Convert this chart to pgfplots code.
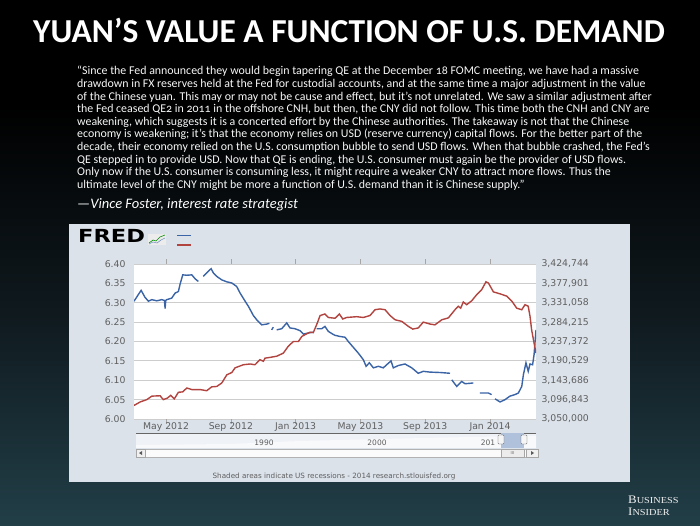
\documentclass[border=0pt]{standalone}
\usepackage{pgfplots}
\usepackage{pgfplotstable}
\pgfplotsset{compat=1.18}
\usepackage{fontspec}
\setmainfont{Carlito}
\newfontfamily\verd{DejaVu Sans}
\newfontfamily\quotefont[Numbers=OldStyle]{Carlito}
\newfontfamily\bifont{Liberation Serif}
\definecolor{fblue}{RGB}{58,100,166}
\definecolor{fred}{RGB}{178,68,64}
\definecolor{panel}{RGB}{219,226,234}
\definecolor{tickgray}{RGB}{95,95,95}
\definecolor{gridgray}{RGB}{205,205,205}
\pgfdeclareverticalshading{bg}{100bp}{rgb(0bp)=(0.19,0.35,0.40); rgb(20bp)=(0.15,0.28,0.32); rgb(45bp)=(0.06,0.10,0.12); rgb(65bp)=(0,0,0); rgb(100bp)=(0,0,0)}

\pgfplotstableread{
m v
2.02 6.304
2.46 6.332
2.70 6.314
2.91 6.304
3.12 6.308
3.43 6.305
3.73 6.308
3.90 6.306
3.94 6.285
3.98 6.306
4.04 6.308
4.35 6.312
4.56 6.325
4.76 6.329
4.86 6.347
5.03 6.372
5.28 6.371
5.59 6.372
5.79 6.362
5.99 6.355
6.15 nan
6.30 6.368
6.51 6.377
6.78 6.388
6.92 6.377
7.13 6.368
7.44 6.359
7.75 6.354
8.06 6.351
8.36 6.342
8.57 6.325
8.88 6.304
9.08 6.291
9.39 6.267
9.60 6.256
9.91 6.243
10.22 6.245
10.38 6.247
10.45 nan
10.52 6.230
10.62 6.237
10.72 nan
10.83 6.230
11.14 6.233
11.45 6.248
11.65 6.235
11.96 6.233
12.27 6.228
12.48 6.219
12.78 6.222
13.09 6.224
13.20 nan
13.30 6.233
13.61 6.233
13.81 6.239
14.02 6.226
14.33 6.218
14.43 6.216
14.74 6.213
15.05 6.211
15.25 6.200
15.56 6.185
15.87 6.170
16.18 6.153
16.35 6.136
16.55 6.145
16.80 6.132
17.11 6.136
17.41 6.132
17.62 6.140
17.89 6.150
18.03 6.132
18.34 6.138
18.75 6.142
19.17 6.132
19.57 6.118
19.88 6.123
20.30 6.121
20.91 6.120
21.53 6.118
21.58 nan
21.64 6.101
21.95 6.084
22.25 6.097
22.46 6.091
22.97 6.093
23.15 nan
23.38 6.067
23.90 6.067
24.10 6.063
24.20 nan
24.31 6.052
24.62 6.044
24.93 6.050
25.23 6.059
25.54 6.063
25.75 6.067
25.96 6.084
26.06 6.114
26.22 6.145
26.36 6.123
26.47 6.142
26.63 6.140
26.72 6.166
26.84 6.230
}\cny

\pgfplotstableread{
m r
2.02 3082790
2.40 3091222
2.81 3096843
3.12 3105275
3.63 3106212
3.83 3096843
4.08 3100590
4.29 3107148
4.51 3098717
4.76 3114643
5.03 3115580
5.28 3124949
5.59 3121201
6.10 3121201
6.51 3118391
6.82 3127759
7.13 3128696
7.44 3137128
7.75 3156802
8.06 3162423
8.26 3173666
8.77 3181160
9.19 3183034
9.49 3181160
9.80 3193340
10.01 3189592
10.11 3197087
10.42 3198961
10.83 3201771
11.24 3209266
11.55 3226130
11.86 3237372
12.17 3237372
12.38 3249551
12.64 3255172
12.89 3259857
13.09 3258920
13.34 3282341
13.51 3300142
13.81 3303889
14.02 3295457
14.43 3293584
14.70 3303889
14.91 3291710
15.15 3295457
15.77 3297331
16.18 3295457
16.59 3300142
16.90 3314195
17.21 3316068
17.52 3314195
17.83 3300142
18.14 3289836
18.55 3286089
18.96 3273910
19.23 3267352
19.57 3270162
19.88 3284215
20.30 3279531
20.60 3277657
21.02 3289836
21.43 3294521
21.84 3314195
22.04 3322626
22.19 3317942
22.35 3332932
22.56 3326374
22.87 3335742
23.18 3350732
23.49 3362911
23.75 3381648
23.90 3378838
24.21 3357290
24.62 3352606
25.04 3346985
25.35 3334805
25.65 3317942
25.96 3314195
26.16 3326374
26.36 3322626
26.47 3298268
26.57 3265478
26.72 3233625
26.84 3209266
}\custody

\begin{document}
\begin{tikzpicture}[x=1pt,y=1pt]
% background
\shade[shading=bg] (0,0) rectangle (700,525);
% title
\node[anchor=base, text=white, inner sep=0pt] at (349,482)
  {\fontsize{33.5}{33.5}\selectfont\bfseries YUAN’S VALUE A FUNCTION OF U.S. DEMAND};
% quote
\begin{scope}[every node/.style={anchor=base west, inner sep=0pt, text=white!94!gray,
   font=\quotefont\fontsize{11.9}{12.6}\selectfont}]
\node at (77,450.0) {“Since the Fed announced they would begin tapering QE at the December 18 FOMC meeting, we have had a massive};
\node at (77,437.4) {drawdown in FX reserves held at the Fed for custodial accounts, and at the same time a major adjustment in the value};
\node at (77,424.8) {of the Chinese yuan. This may or may not be cause and effect, but it’s not unrelated. We saw a similar adjustment after};
\node at (77,412.2) {the Fed ceased QE2 in 2011 in the offshore CNH, but then, the CNY did not follow. This time both the CNH and CNY are};
\node at (77,399.6) {weakening, which suggests it is a concerted effort by the Chinese authorities. The takeaway is not that the Chinese};
\node at (77,387.0) {economy is weakening; it’s that the economy relies on USD (reserve currency) capital flows. For the better part of the};
\node at (77,374.4) {decade, their economy relied on the U.S. consumption bubble to send USD flows. When that bubble crashed, the Fed’s};
\node at (77,361.8) {QE stepped in to provide USD. Now that QE is ending, the U.S. consumer must again be the provider of USD flows.};
\node at (77,349.2) {Only now if the U.S. consumer is consuming less, it might require a weaker CNY to attract more flows. Thus the};
\node at (77,336.6) {ultimate level of the CNY might be more a function of U.S. demand than it is Chinese supply.”};
\end{scope}
\node[anchor=base west, inner sep=0pt, text=white] at (77,316.5)
  {\fontsize{14.5}{15}\selectfont\itshape —Vince Foster, interest rate strategist};
% FRED panel
\fill[panel] (69,43) rectangle (630,301);
\node[anchor=base west, inner sep=0pt] at (78,282)
  {\scalebox{1.25}[1]{\verd\bfseries\fontsize{18}{18}\selectfont FRED}};
\fill[white!85!gray] (148,280) rectangle (166,291);
\draw[green!55!black, line width=0.6] (149,282) -- (153,285) -- (156,284) -- (160,288) -- (165,290);
\draw[fblue!70, line width=0.6] (149,281) -- (153,283) -- (157,282) -- (161,285) -- (165,287);
\draw[fblue, line width=1.2] (177,289.3) -- (191,289.3);
\draw[fred, line width=1.2] (177,280) -- (191,280);
% navigator
\fill[white!55!panel] (136,77) rectangle (536,92);
\fill[white!80!panel] (136,77) -- (136,80) -- (230,81) -- (300,84) -- (380,86) -- (470,88) -- (536,89) -- (536,77) -- cycle;
\draw[gray!80!black, line width=0.6] (136,92) -- (536,92);
\begin{scope}[every node/.style={font=\verd\fontsize{7.5}{8}\selectfont, text=tickgray}]
\node at (264,82) {1990};
\node at (377,82) {2000};
\node at (488,82) {201};
\end{scope}
\fill[fblue!40!white] (501,77) rectangle (524,92);
\draw[gray!70!black, fill=white!92!gray, rounded corners=0.8pt, line width=0.4] (498,81) rectangle (504,90);
\draw[gray!70!black, fill=white!92!gray, rounded corners=0.8pt, line width=0.4] (521,81) rectangle (527,90);
\draw[gray!60, fill=white!97!gray, line width=0.4] (136,68) rectangle (538,76);
\draw[gray!70, fill=white!88!gray, line width=0.4] (136,68) rectangle (145,76);
\fill[gray!70!black] (139,72) -- (142,74) -- (142,70) -- cycle;
\draw[gray!70, fill=white!88!gray, line width=0.4] (526,68) rectangle (538,76);
\fill[gray!70!black] (534,72) -- (531,74) -- (531,70) -- cycle;
\draw[gray!70, fill=white!85!gray, line width=0.4] (501,68) rectangle (524,76);
\node[font=\verd\fontsize{4}{4}\selectfont, text=gray!80!black] at (512.5,72) {III};
\node[font=\verd\fontsize{7.2}{8}\selectfont, text=tickgray] at (334,48)
  {Shaded areas indicate US recessions - 2014 research.stlouisfed.org};
% Business Insider
\node[anchor=base west, inner sep=0pt, text=white!88!gray] at (628,22)
  {\scalebox{1.12}[1]{\bifont{\fontsize{11.5}{11.5}\selectfont B}{\fontsize{9.2}{9.2}\selectfont USINESS}}};
\node[anchor=base west, inner sep=0pt, text=white!88!gray] at (628,10)
  {\scalebox{1.12}[1]{\bifont{\fontsize{11.5}{11.5}\selectfont I}{\fontsize{9.2}{9.2}\selectfont NSIDER}}};
% left axis with CNY
\begin{axis}[
  at={(134pt,106pt)}, anchor=south west, scale only axis,
  width=402pt, height=155pt,
  xmin=2.02, xmax=26.84, ymin=6, ymax=6.40,
  axis background/.style={fill=white},
  axis line style={draw=none},
  ytick={6.00,6.05,6.10,6.15,6.20,6.25,6.30,6.35,6.40},
  yticklabels={6.00,6.05,6.10,6.15,6.20,6.25,6.30,6.35,6.40},
  ymajorgrids, grid style={gridgray, line width=0.9pt},
  ytick style={draw=none},
  xtick={4,8,12,16,20,24},
  xticklabels={May 2012,Sep 2012,Jan 2013,May 2013,Sep 2013,Jan 2014},
  tick align=outside, major tick length=5pt,
  xtick style={gray!70, line width=0.5pt},
  tick label style={font=\verd\fontsize{9.3}{10}\selectfont, text=tickgray},
  xticklabel style={yshift=4.5pt},
  unbounded coords=jump,
]
\addplot[fblue, line width=1.4pt] table[x=m, y=v] {\cny};
\end{axis}
% right axis with custody holdings
\begin{axis}[
  at={(134pt,106pt)}, anchor=south west, scale only axis,
  width=402pt, height=155pt,
  xmin=2.02, xmax=26.84, ymin=3050000, ymax=3424744,
  hide x axis, axis y line*=right,
  axis line style={draw=none},
  ytick style={draw=none},
  scaled y ticks=false,
  ytick={3050000,3096843,3143686,3190529,3237372,3284215,3331058,3377901,3424744},
  yticklabels={{3,050,000},{3,096,843},{3,143,686},{3,190,529},{3,237,372},{3,284,215},{3,331,058},{3,377,901},{3,424,744}},
  tick label style={font=\verd\fontsize{9.3}{10}\selectfont, text=tickgray},
  yticklabel style={xshift=2pt},
]
\addplot[fred, line width=1.4pt] table[x=m, y=r] {\custody};
\end{axis}
\end{tikzpicture}
\end{document}
